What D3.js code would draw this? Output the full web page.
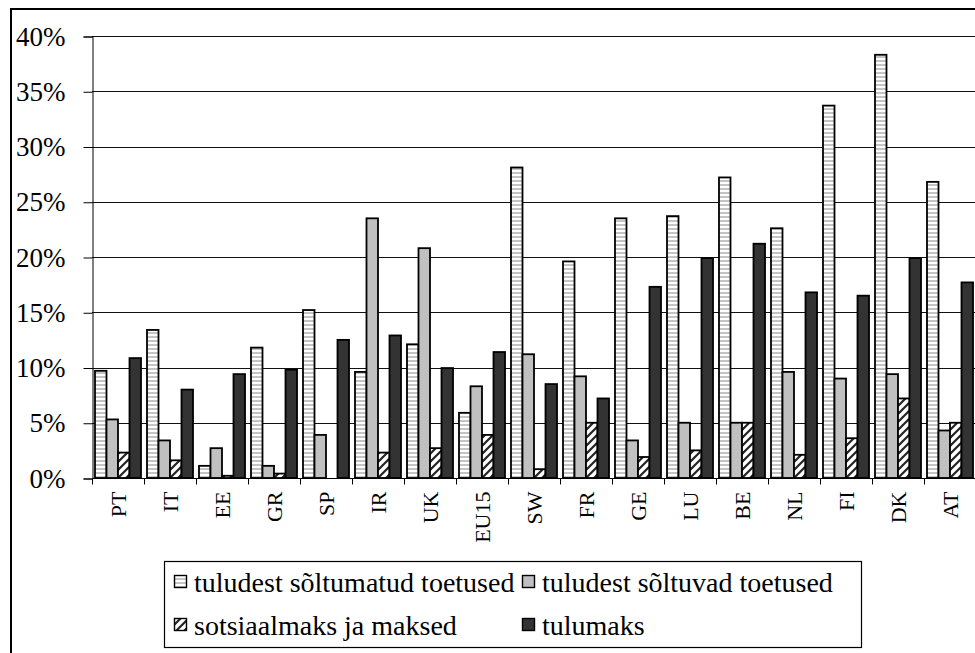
<!DOCTYPE html>
<html>
<head>
<meta charset="utf-8">
<script src="https://cdn.jsdelivr.net/npm/d3@7"></script>
<style>
  body { margin: 0; background: #fff; }
  svg { display: block; }
  svg text { font-family: "Liberation Serif", "Times New Roman", serif; fill: #000; }
</style>
</head>
<body>
<svg id="chart" width="975" height="653"></svg>
<script>
// categories along the x axis
const countries = ["PT", "IT", "EE", "GR", "SP", "IR", "UK", "EU15", "SW", "FR", "GE", "LU", "BE", "NL", "FI", "DK", "AT"];

// series names (legend)
const seriesNames = ["tuludest sõltumatud toetused", "tuludest sõltuvad toetused", "sotsiaalmaks ja maksed", "tulumaks"];

// values in percent
const soltumatud = [9.7, 13.4, 1.1, 11.8, 15.2, 9.6, 12.1, 5.9, 28.1, 19.6, 23.5, 23.7, 27.2, 22.6, 33.7, 38.3, 26.8];
const soltuvad = [5.3, 3.4, 2.7, 1.1, 3.9, 23.5, 20.8, 8.3, 11.2, 9.2, 3.4, 5.0, 5.0, 9.6, 9.0, 9.4, 4.3];
const sotsiaalmaks = [2.3, 1.6, 0.2, 0.4, 0, 2.3, 2.7, 3.9, 0.8, 5.0, 1.9, 2.5, 5.0, 2.1, 3.6, 7.2, 5.0];
const tulumaks = [10.85, 8.0, 9.4, 9.8, 12.5, 12.9, 9.95, 11.4, 8.5, 7.2, 17.3, 19.9, 21.2, 16.8, 16.5, 19.9, 17.7];

const yTicks = [0, 5, 10, 15, 20, 25, 30, 35, 40];

const seriesValues = [soltumatud, soltuvad, sotsiaalmaks, tulumaks];
const fills = ["url(#stripes)", "#c0c0c0", "url(#hatch)", "#333333"];

const svg = d3.select("#chart");

// patterns for the striped and hatched bars
const defs = svg.append("defs");
const stripes = defs.append("pattern")
    .attr("id", "stripes")
    .attr("patternUnits", "userSpaceOnUse")
    .attr("width", 4).attr("height", 4);
stripes.append("rect").attr("width", 4).attr("height", 4).attr("fill", "#fff");
stripes.append("rect").attr("y", 0).attr("width", 4).attr("height", 2).attr("fill", "#c4c4c4");

const hatch = defs.append("pattern")
    .attr("id", "hatch")
    .attr("patternUnits", "userSpaceOnUse")
    .attr("width", 8).attr("height", 8);
hatch.append("rect").attr("width", 8).attr("height", 8).attr("fill", "#fff");
hatch.append("path")
    .attr("d", "M-2,2 L2,-2 M0,8 L8,0 M6,10 L10,6")
    .attr("stroke", "#222")
    .attr("stroke-width", 2.2);

// outer frame of the chart area
svg.append("rect")
    .attr("x", 11).attr("y", 9)
    .attr("width", 1000).attr("height", 700)
    .attr("fill", "none")
    .attr("stroke", "#000")
    .attr("stroke-width", 2);

const x0 = d3.scaleBand()
    .domain(countries)
    .range([92, 976]);

const x1 = d3.scaleBand()
    .domain(d3.range(4))
    .range([0, x0.bandwidth()])
    .paddingOuter(0.26);

const y = d3.scaleLinear()
    .domain([0, 40])
    .range([478, 36]);

// gridlines
svg.append("g")
    .selectAll("line")
    .data(yTicks.slice(1))
    .join("line")
    .attr("x1", 92).attr("x2", 976)
    .attr("y1", d => Math.round(y(d)) + 0.5)
    .attr("y2", d => Math.round(y(d)) + 0.5)
    .attr("stroke", "#111")
    .attr("stroke-width", 1);

// y axis
const yAxis = svg.append("g")
    .attr("transform", "translate(92.5,0.5)")
    .call(d3.axisLeft(y).tickValues(yTicks).tickSize(9).tickPadding(18).tickFormat(d => d + "%"));
yAxis.attr("font-family", null).attr("font-size", null);
yAxis.select(".domain").attr("stroke", "#000");
yAxis.selectAll(".tick line").attr("stroke", "#000");
yAxis.selectAll("text")
    .attr("fill", "#000")
    .style("font-size", "27px");

// bars
const groups = svg.append("g")
    .selectAll("g")
    .data(countries)
    .join("g")
    .attr("transform", d => `translate(${x0(d)},0)`);

groups.selectAll("rect")
    .data((d, i) => seriesValues.map((s, k) => ({ k: k, v: s[i] })))
    .join("rect")
    .attr("x", d => x1(d.k))
    .attr("y", d => y(d.v))
    .attr("width", x1.bandwidth())
    .attr("height", d => y(0) - y(d.v))
    .attr("fill", d => fills[d.k])
    .attr("stroke", "#000")
    .attr("stroke-width", 1.8)
    .attr("display", d => d.v > 0 ? null : "none");

// x axis
const xAxis = svg.append("g")
    .attr("transform", "translate(0,478.5)");
xAxis.append("line")
    .attr("x1", 92).attr("x2", 976)
    .attr("stroke", "#000");
xAxis.selectAll(".tk")
    .data(countries)
    .join("line")
    .attr("class", "tk")
    .attr("x1", d => Math.round(x0(d)) + 0.5)
    .attr("x2", d => Math.round(x0(d)) + 0.5)
    .attr("y1", 0).attr("y2", 6)
    .attr("stroke", "#000");
xAxis.selectAll("text")
    .data(countries)
    .join("text")
    .attr("transform", d => `translate(${x0(d) + x0.bandwidth() / 2},13) rotate(-90)`)
    .attr("text-anchor", "end")
    .attr("dy", "0.35em")
    .style("font-size", "22px")
    .text(d => d);

// legend
const legend = svg.append("g");
legend.append("rect")
    .attr("x", 164.5).attr("y", 561.5)
    .attr("width", 697).attr("height", 86)
    .attr("fill", "#fff")
    .attr("stroke", "#000")
    .attr("stroke-width", 1.2);

const legendPos = [[174, 582], [522, 582], [174, 625], [522, 625]];
const items = legend.selectAll("g")
    .data(seriesNames)
    .join("g")
    .attr("transform", (d, i) => `translate(${legendPos[i][0]},${legendPos[i][1]})`);
items.append("rect")
    .attr("x", 0.5).attr("y", -6.5)
    .attr("width", 12).attr("height", 12)
    .attr("fill", (d, i) => fills[i])
    .attr("stroke", "#000")
    .attr("stroke-width", 1.4);
items.append("text")
    .attr("x", 20)
    .attr("dy", "0.35em")
    .style("font-size", "28px")
    .text(d => d);
</script>
</body>
</html>
